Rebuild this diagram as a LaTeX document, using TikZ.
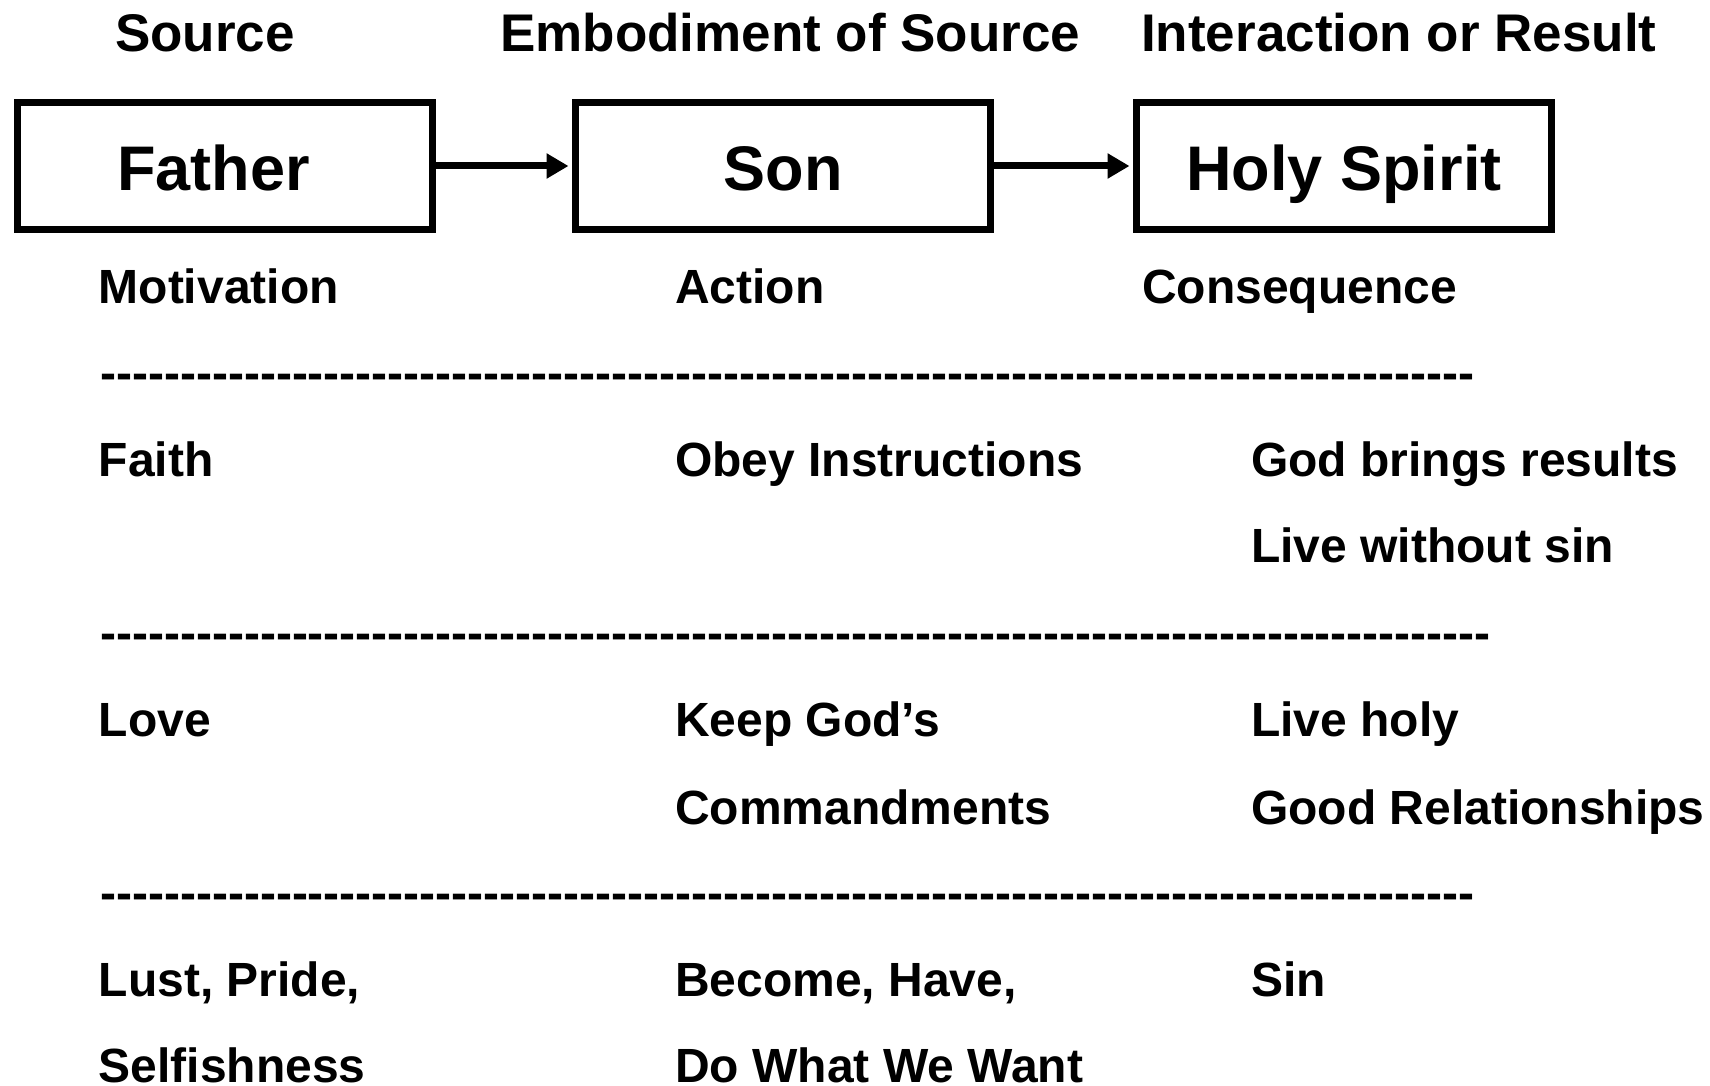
\documentclass[tikz,border=0pt]{standalone}
\usepackage{fontspec}
\setmainfont{Liberation Sans}
\usetikzlibrary{arrows.meta}

\newcommand{\guiones}[1]{\foreach \i in {1,...,#1}{-}}

\begin{document}
\begin{tikzpicture}[x=1pt, y=-1pt,
    caja/.style={draw, line width=7pt, minimum width=415pt, minimum height=127pt,
      inner sep=0pt, text height=50pt, text depth=0pt,
      font=\fontsize{63}{70}\selectfont\bfseries},
    titulo/.style={anchor=base west, inner sep=0pt, font=\fontsize{53}{60}\selectfont\bfseries},
    texto/.style={anchor=base west, inner sep=0pt, font=\fontsize{48}{56}\selectfont\bfseries},
    flecha/.style={line width=7pt, -{Triangle[length=22pt, width=24pt]}, shorten >=3.5pt}]
\useasboundingbox (0,0) rectangle (1710,1086);

% Encabezados
\node[titulo] (source) at (115,52) {Source};
\node[titulo] (embod) at (500,52) {Embodiment of Source};
\node[titulo] (inter) at (1141,52) {Interaction or Result};

% Cajas
\node[caja] (father) at (224.5,166) {Father\hspace*{22pt}};
\node[caja] (son) at (783,166) {Son};
\node[caja] (spirit) at (1344,166) {Holy Spirit};

% Flechas
\draw[flecha] (father.east) -- (son.west);
\draw[flecha] (son.east) -- (spirit.west);

% Etiquetas bajo las cajas
\node[texto] (motiv) at (98.5,303) {Motivation};
\node[texto] (action) at (675,303) {Action};
\node[texto] (conseq) at (1142,303) {Consequence};

% Separadores
\node[texto] (sep1) at (100,389) {\guiones{86}};
\node[texto] (sep2) at (100,649) {\guiones{87}};
\node[texto] (sep3) at (100,909) {\guiones{86}};

% Fila 1
\node[texto] (faith) at (98.5,476) {Faith};
\node[texto] (obey) at (675,476) {Obey Instructions};
\node[texto] (results) at (1251,476) {God brings results};
\node[texto] (nosin) at (1251,562) {Live without sin};

% Fila 2
\node[texto] (love) at (98.5,736) {Love};
\node[texto] (keep) at (675,736) {Keep God’s};
\node[texto] (command) at (675,824) {Commandments};
\node[texto] (holy) at (1251,736) {Live holy};
\node[texto] (relat) at (1251,824) {Good Relationships};

% Fila 3
\node[texto] (lust) at (98.5,996) {Lust, Pride,};
\node[texto] (selfish) at (98.5,1082) {Selfishness};
\node[texto] (become) at (675,996) {Become, Have,};
\node[texto] (want) at (675,1082) {Do What We Want};
\node[texto] (sin) at (1251,996) {Sin};

\end{tikzpicture}
\end{document}
